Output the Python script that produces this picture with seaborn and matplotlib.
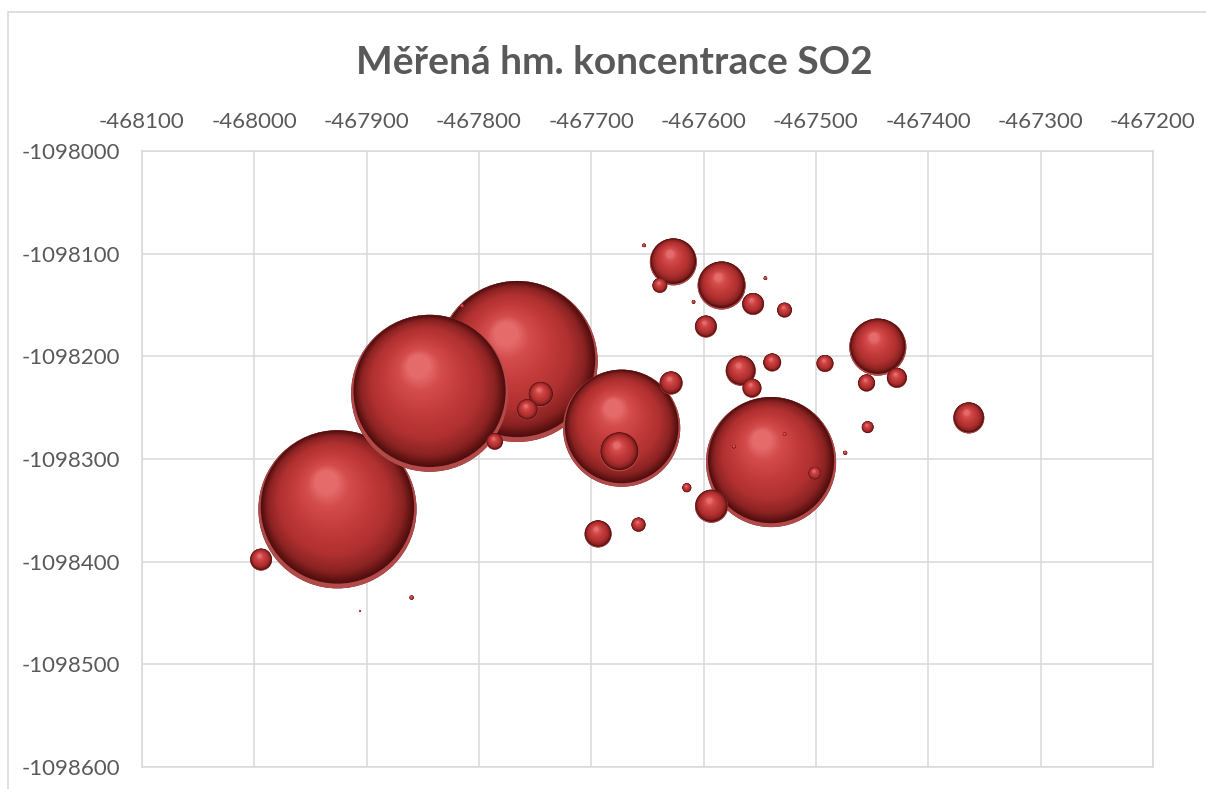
import numpy as np
import pandas as pd
import matplotlib
matplotlib.use("Agg")
import matplotlib.pyplot as plt
import seaborn as sns
from matplotlib.colors import LinearSegmentedColormap
from matplotlib.patches import Rectangle

# ---------------- data ----------------
title_text = "Měřená hm. koncentrace SO2"
x_ticks = [-468100, -468000, -467900, -467800, -467700, -467600, -467500, -467400, -467300, -467200]
y_ticks = [-1098600, -1098500, -1098400, -1098300, -1098200, -1098100, -1098000]

x_coord = [-467926, -467844, -467766, -467673, -467540, -467445, -467584, -467627,
           -467675, -467593, -467364, -467567, -467694, -467745, -467629, -467556,
           -467598, -467994, -467757, -467428, -467557, -467539, -467492, -467455,
           -467786, -467639, -467528, -467658, -467501, -467454, -467615,
           -467653, -467545, -467609, -467474, -467528, -467573, -467860, -467906, -467815]
y_coord = [-1098349, -1098236, -1098205, -1098270, -1098303, -1098191, -1098131, -1098108,
           -1098293, -1098346, -1098260, -1098214, -1098373, -1098237, -1098226, -1098149,
           -1098171, -1098398, -1098252, -1098221, -1098231, -1098206, -1098207, -1098226,
           -1098283, -1098131, -1098155, -1098364, -1098314, -1098269, -1098328,
           -1098092, -1098124, -1098147, -1098294, -1098276, -1098288, -1098435, -1098448, -1098151]
conc = [25.0, 24.6, 25.9, 13.7, 16.9, 3.25, 2.3, 2.2,
        1.52, 1.09, 0.96, 0.90, 0.73, 0.62, 0.53, 0.48,
        0.48, 0.48, 0.44, 0.40, 0.36, 0.32, 0.29, 0.29,
        0.27, 0.22, 0.22, 0.20, 0.17, 0.14, 0.08,
        0.012, 0.012, 0.012, 0.016, 0.012, 0.012, 0.016, 0.004, 0.012]

# ---------------- style ----------------
sns.set_theme(style="white")
plt.rcParams['font.family'] = ['Lato', 'DejaVu Sans']

W, H = 1206, 789
fig = plt.figure(figsize=(W / 100, H / 100), dpi=100)
fig.patch.set_facecolor('white')
L, R, T, B = 142, 1153, 151, 767
ax = fig.add_axes([L / W, 1 - B / H, (R - L) / W, (B - T) / H])

# chart border
fig.patches.append(Rectangle((8 / W, -0.05), 1.2, 1 - 12 / H + 0.05, transform=fig.transFigure,
                             fill=False, edgecolor='#d9d9d9', linewidth=1.2, zorder=0))

df = pd.DataFrame({'x': x_coord, 'y': y_coord, 'c': conc})
df = df.sort_values('c', ascending=False, kind='stable').reset_index(drop=True)

vmax = max(conc)
d_max_px = 161
smax = (d_max_px * 72 / 100) ** 2

ax.set_xlim(x_ticks[0], x_ticks[-1])
ax.set_ylim(y_ticks[0], y_ticks[-1])

sns.scatterplot(data=df, x='x', y='y', size='c', sizes=(0, smax), size_norm=(0, vmax),
                color='#6b1818', linewidth=0, legend=False, ax=ax, zorder=2)
sizes = ax.collections[0].get_sizes()

ax.set_xlim(x_ticks[0], x_ticks[-1])
ax.set_ylim(y_ticks[0], y_ticks[-1])

# 3D-looking shading of each bubble
cmap = LinearSegmentedColormap.from_list('ball', [
    (0.00, '#520e0e'), (0.12, '#8a2222'), (0.32, '#b03030'),
    (0.60, '#c43c3c'), (0.85, '#d44c4c'), (1.00, '#e56a6a')])
N = 44
hx, hy = -0.17, 0.38
f0 = 0.97
for i, row in df.iterrows():
    s = sizes[i]
    r_px = np.sqrt(s) / 2 * 100 / 72
    cx, cy = ax.transData.transform((row['x'], row['y']))
    ts = np.linspace(0, 1, N)
    f = f0 - 0.82 * ts
    ox = (f0 - f) * hx
    oy = (1 - f0) + (f0 - f) * hy
    px = np.r_[cx, cx + ox * r_px]
    py = np.r_[cy, cy + oy * r_px]
    ff = np.r_[1.0, f]
    cols = np.vstack([matplotlib.colors.to_rgba('#b34a4a'), cmap(ts)])
    pts = ax.transData.inverted().transform(np.c_[px, py])
    ax.scatter(pts[:, 0], pts[:, 1], s=s * ff ** 2, c=cols, linewidths=0, zorder=3 + i)

# axes
ax.xaxis.set_ticks_position('top')
ax.set_xticks(x_ticks)
ax.set_xticklabels([str(v) for v in x_ticks])
ax.set_yticks(y_ticks)
ax.set_yticklabels([str(v) for v in y_ticks])
ax.set_xlabel('')
ax.set_ylabel('')
ax.tick_params(axis='x', length=0, labelsize=16, colors='#595959', pad=14, top=True, labeltop=True,
               bottom=False, labelbottom=False)
ax.tick_params(axis='y', length=0, labelsize=16, colors='#595959', pad=16)
ax.grid(True, color='#d9d9d9', linewidth=1.1)
ax.set_axisbelow(True)
for sp in ax.spines.values():
    sp.set_color('#d9d9d9')
    sp.set_linewidth(1.1)

fig.text(614 / W, 1 - 62 / H, title_text, ha='center', va='center', fontsize=28,
         fontweight='bold', color='#595959')

fig.savefig('out.png', dpi=100)
